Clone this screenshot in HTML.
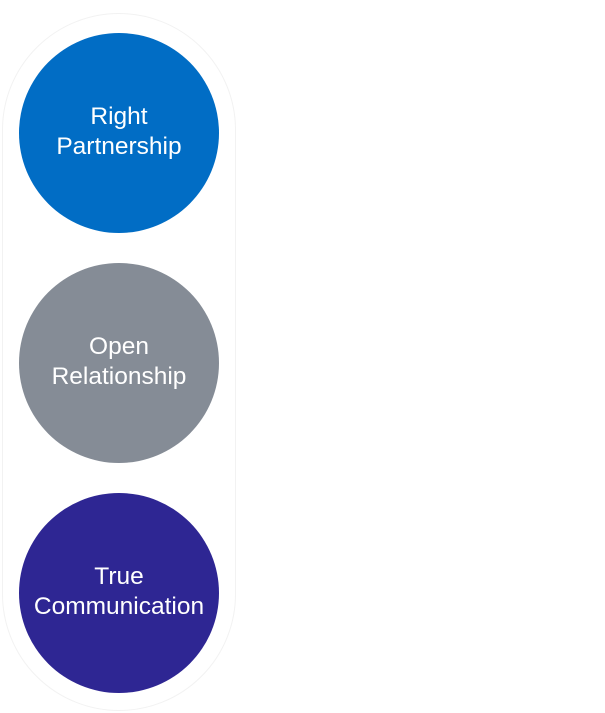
<!DOCTYPE html>
<html><head><meta charset="utf-8"><style>
html,body{margin:0;padding:0;background:#fff;width:605px;height:713px;overflow:hidden;position:relative;font-family:"Liberation Sans",sans-serif}
.outline{position:absolute;left:2px;top:13px;width:232px;height:696px;border:1.5px solid #f2f2f2;border-radius:117px}
.c{position:absolute;left:19px;width:200px;height:200px;border-radius:50%;color:#fff;font-size:24.5px;line-height:30px;display:flex;align-items:center;justify-content:center;text-align:center}
.c span{position:relative;top:-1px}
</style></head><body>
<div class="outline"></div>
<div class="c" style="top:33px;background:#016dc5"><span>Right<br>Partnership</span></div>
<div class="c" style="top:263px;background:#858c96"><span>Open<br>Relationship</span></div>
<div class="c" style="top:493px;background:#2e2693"><span>True<br>Communication</span></div>
</body></html>
